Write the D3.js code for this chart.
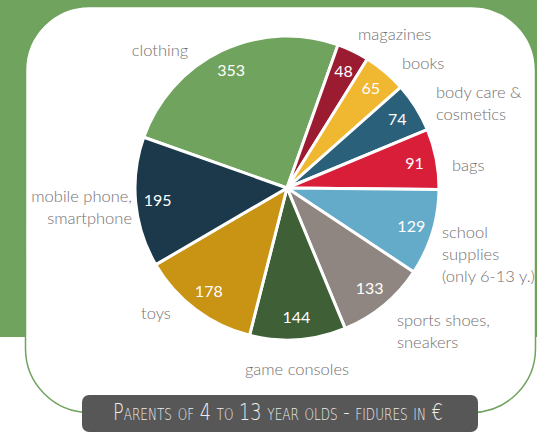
<!DOCTYPE html>
<html>
<head>
<meta charset="utf-8">
<script src="https://cdn.jsdelivr.net/npm/d3@7"></script>
<style>
  html, body { margin: 0; padding: 0; background: #ffffff; }
  svg { display: block; }
</style>
</head>
<body>
<svg id="chart" width="537" height="433"></svg>
<script>
// Monthly spending categories of parents (values in €)
const categories = ["clothing", "magazines", "books", "body care & cosmetics", "bags",
  "school supplies (only 6-13 y.)", "sports shoes, sneakers", "game consoles", "toys",
  "mobile phone, smartphone"];
const values = [353, 48, 65, 74, 91, 129, 133, 144, 178, 195];
const colors = ["#6fa35e", "#9b1c31", "#f0b731", "#2b607a", "#d91e3a",
  "#64abca", "#8f8681", "#3f5f37", "#c99313", "#1b394a"];
// Outside label lines per category
const labelLines = [
  ["clothing"], ["magazines"], ["books"], ["body care &", "cosmetics"], ["bags"],
  ["school", "supplies", "(only 6-13 y.)"], ["sports shoes,", "sneakers"],
  ["game consoles"], ["toys"], ["mobile phone,", "smartphone"]
];
const title = "Parents of 4 to 13 year olds - fidures in €";

const svg = d3.select("#chart");
const W = 537, H = 433;
const green = "#6fa35e";

// Background panel and white card
svg.append("rect").attr("x", 0).attr("y", 0).attr("width", W).attr("height", 337).attr("fill", green);
svg.append("rect").attr("x", 25.5).attr("y", 6.5).attr("width", 510).attr("height", 406)
  .attr("rx", 64).attr("ry", 64)
  .attr("fill", "#ffffff").attr("stroke", green).attr("stroke-width", 1.5);

// Pie
const cx = 287, cy = 188, R = 152;
const startDeg = -70.5;
const pie = d3.pie().sort(null).value(d => d)
  .startAngle(startDeg * Math.PI / 180)
  .endAngle((startDeg + 360) * Math.PI / 180);
const arcs = pie(values);
const arc = d3.arc().innerRadius(0).outerRadius(R);
const labelArc = d3.arc().innerRadius(130).outerRadius(130);

const g = svg.append("g").attr("transform", `translate(${cx},${cy})`);
g.selectAll("path.slice").data(arcs).join("path")
  .attr("class", "slice")
  .attr("d", arc)
  .attr("fill", (d, i) => colors[i])
  .attr("stroke", "#ffffff")
  .attr("stroke-width", 3)
  .attr("stroke-linejoin", "round");

g.selectAll("text.val").data(arcs).join("text")
  .attr("class", "val")
  .attr("transform", d => `translate(${labelArc.centroid(d)})`)
  .attr("text-anchor", "middle")
  .attr("dy", "0.35em")
  .attr("font-family", "Lato, 'Open Sans', sans-serif")
  .attr("font-size", 16)
  .attr("fill", "#ffffff")
  .text(d => d.data);

// Category labels placed outside the pie
const labelPos = [
  { x: 160, y: 50, anchor: "middle" },
  { x: 358, y: 34, anchor: "start" },
  { x: 402, y: 63, anchor: "start" },
  { x: 436, y: 92, anchor: "start" },
  { x: 452, y: 165, anchor: "start" },
  { x: 442, y: 232, anchor: "start" },
  { x: 397, y: 320, anchor: "start" },
  { x: 297, y: 369, anchor: "middle" },
  { x: 156, y: 313, anchor: "middle" },
  { x: 132, y: 196, anchor: "end" }
];
const lineH = 22;
const lab = svg.append("g")
  .attr("font-family", "Lato, 'Open Sans', sans-serif")
  .attr("font-size", 16.5)
  .attr("font-weight", 300)
  .attr("fill", "#747070");
labelLines.forEach((lines, i) => {
  const p = labelPos[i];
  const t = lab.append("text").attr("text-anchor", p.anchor);
  lines.forEach((ln, j) => {
    t.append("tspan").attr("x", p.x).attr("y", p.y + j * lineH).attr("dy", "0.35em").text(ln);
  });
});

// Title banner: thin small caps, squeezed horizontally into a narrow band
svg.append("rect").attr("x", 82).attr("y", 395).attr("width", 396).attr("height", 37)
  .attr("rx", 7).attr("fill", "#575757");
const titleWidth = 334, titleSize = 23;
const titleText = svg.append("text")
  .attr("x", 0).attr("y", 0)
  .attr("font-family", "'DejaVu Sans', sans-serif")
  .attr("font-size", titleSize)
  .attr("font-weight", 200)
  .style("font-variant", "small-caps")
  .attr("fill", "#ededed")
  .text(title);
const natural = titleText.node().getComputedTextLength();
const fitSize = titleSize * titleWidth / natural;
titleText.attr("font-size", fitSize)
  .attr("transform", `translate(113,420) scale(1,${titleSize / fitSize})`);
</script>
</body>
</html>
